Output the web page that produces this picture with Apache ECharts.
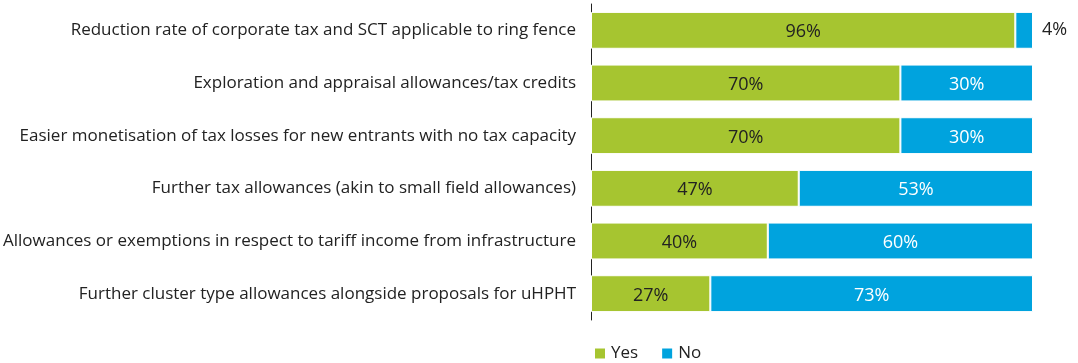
<!DOCTYPE html>
<html><head><meta charset="utf-8">
<script src="https://cdn.jsdelivr.net/npm/echarts@6/dist/echarts.min.js"></script>
<style>html,body{margin:0;padding:0;background:#fff}#c{width:1078px;height:363px}</style>
</head><body><div id="c"></div>
<script>
const categories = [
  "Reduction rate of corporate tax and SCT applicable to ring fence",
  "Exploration and appraisal allowances/tax credits",
  "Easier monetisation of tax losses for new entrants with no tax capacity",
  "Further tax allowances (akin to small field allowances)",
  "Allowances or exemptions in respect to tariff income from infrastructure",
  "Further cluster type allowances alongside proposals for uHPHT"
];
const yesValues = [96, 70, 70, 47, 40, 27];
const noValues = [4, 30, 30, 53, 60, 73];
const seriesNames = ["Yes", "No"];

const FONT = "Open Sans";
const chart = echarts.init(document.getElementById('c'));
chart.setOption({
  animation: false,
  textStyle: { fontFamily: FONT },
  grid: { left: 591, right: 45, top: 4, bottom: 43, containLabel: false },
  legend: {
    data: seriesNames, left: 593, top: 345, padding: 0, itemWidth: 12, itemHeight: 12, itemGap: 22,
    icon: 'rect',
    textStyle: { fontFamily: FONT, fontSize: 17, color: '#222' }
  },
  xAxis: { type: 'value', min: 0, max: 100, show: false },
  yAxis: {
    type: 'category', data: categories, inverse: true,
    axisLine: { show: true, lineStyle: { color: '#222', width: 1 } },
    axisTick: { show: false },
    axisLabel: { fontFamily: FONT, fontSize: 17, color: '#222', margin: 15 }
  },
  series: [
    {
      name: seriesNames[0], type: 'bar', stack: 's', data: yesValues, barWidth: '70%',
      itemStyle: { color: '#a6c530', borderColor: '#fff', borderWidth: 1 },
      label: { show: true, position: 'inside', offset: [0, 2], formatter: '{c}%', fontFamily: FONT, fontSize: 18, color: '#222' }
    },
    {
      name: seriesNames[1], type: 'bar', stack: 's', barWidth: '70%',
      data: noValues.map(v => v < 10 ? { value: v, label: { position: 'right', distance: 9, offset: [0, 0], color: '#222' } } : v),
      itemStyle: { color: '#00a3de', borderColor: '#fff', borderWidth: 1 },
      label: { show: true, position: 'inside', offset: [0, 2], formatter: '{c}%', fontFamily: FONT, fontSize: 18, color: '#fff' }
    }
  ]
});
</script></body></html>
